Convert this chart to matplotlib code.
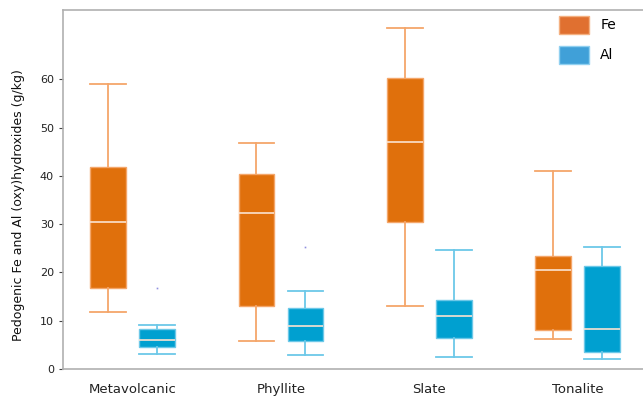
import matplotlib
matplotlib.use('Agg')
import matplotlib.pyplot as plt
from matplotlib.patches import Patch

# rock types and box stats (g/kg)
rocks = ['Metavolcanic', 'Phyllite', 'Slate', 'Tonalite']

fe_low = [11.8, 5.7, 13.1, 6.2]
fe_q1 = [16.7, 13.1, 30.5, 8.0]
fe_med = [30.5, 32.4, 47.1, 20.5]
fe_q3 = [41.8, 40.5, 60.4, 23.4]
fe_high = [59.1, 46.9, 70.7, 41.0]
fe_out = [[], [], [], []]

al_low = [3.2, 2.8, 2.4, 2.0]
al_q1 = [4.5, 5.9, 6.4, 3.5]
al_med = [6.0, 8.9, 10.9, 8.2]
al_q3 = [8.3, 12.6, 14.4, 21.3]
al_high = [9.1, 16.1, 24.7, 25.2]
al_out = [[16.8], [25.2], [], []]

fe_col = '#E0700C'
fe_light = '#F4A66A'
al_col = '#00A0D0'
al_light = '#6CC8E8'


def stats(low, q1, med, q3, high, out):
    return [dict(whislo=a, q1=b, med=c, q3=d, whishi=e, fliers=f)
            for a, b, c, d, e, f in zip(low, q1, med, q3, high, out)]


fig = plt.figure(figsize=(6.43, 3.99), dpi=100)
ax = fig.add_axes([63 / 643, 30 / 399, 580 / 643, 359 / 399])

x = list(range(len(rocks)))
off = 0.165
w = 0.242

for st, pos, col, light in [
        (stats(fe_low, fe_q1, fe_med, fe_q3, fe_high, fe_out), [i - off for i in x], fe_col, fe_light),
        (stats(al_low, al_q1, al_med, al_q3, al_high, al_out), [i + off for i in x], al_col, al_light)]:
    ax.bxp(st, positions=pos, widths=w, patch_artist=True, showfliers=True,
           boxprops=dict(facecolor=col, edgecolor=light, linewidth=1),
           medianprops=dict(color='#FBE3D0', linewidth=1.2),
           whiskerprops=dict(color=light, linewidth=1.3),
           capprops=dict(color=light, linewidth=1.3),
           capwidths=w,
           flierprops=dict(marker='s', markersize=1.2, markerfacecolor='#9090E0',
                           markeredgecolor='none'))

ax.set_xlim(-0.468, 3.438)
ax.set_ylim(0, 74.4)
ax.set_xticks(x)
ax.set_xticklabels(rocks, fontsize=9.5, color='#222222')
ax.set_yticks([0, 10, 20, 30, 40, 50, 60])
ax.tick_params(axis='y', labelsize=8, length=3, color='#444444', labelcolor='#222222')
ax.tick_params(axis='x', length=0, pad=10)
ax.set_ylabel('Pedogenic Fe and Al (oxy)hydroxides (g/kg)', fontsize=9, color='#111111')
ax.yaxis.set_label_coords(-0.066, 0.457)

for s in ['left', 'top', 'bottom']:
    ax.spines[s].set_color('#b0b0b0')
    ax.spines[s].set_linewidth(1.2)
ax.spines['right'].set_visible(False)

handles = [Patch(facecolor='#E07030', edgecolor='#F4B080', label='Fe'),
           Patch(facecolor='#40A0D8', edgecolor='#90D0F0', label='Al')]
ax.legend(handles=handles, loc='upper right', bbox_to_anchor=(0.975, 1.019), frameon=False,
          fontsize=10, handlelength=2.2, handleheight=1.6, labelspacing=0.9, handletextpad=0.8)

plt.savefig('out.png', dpi=100)
